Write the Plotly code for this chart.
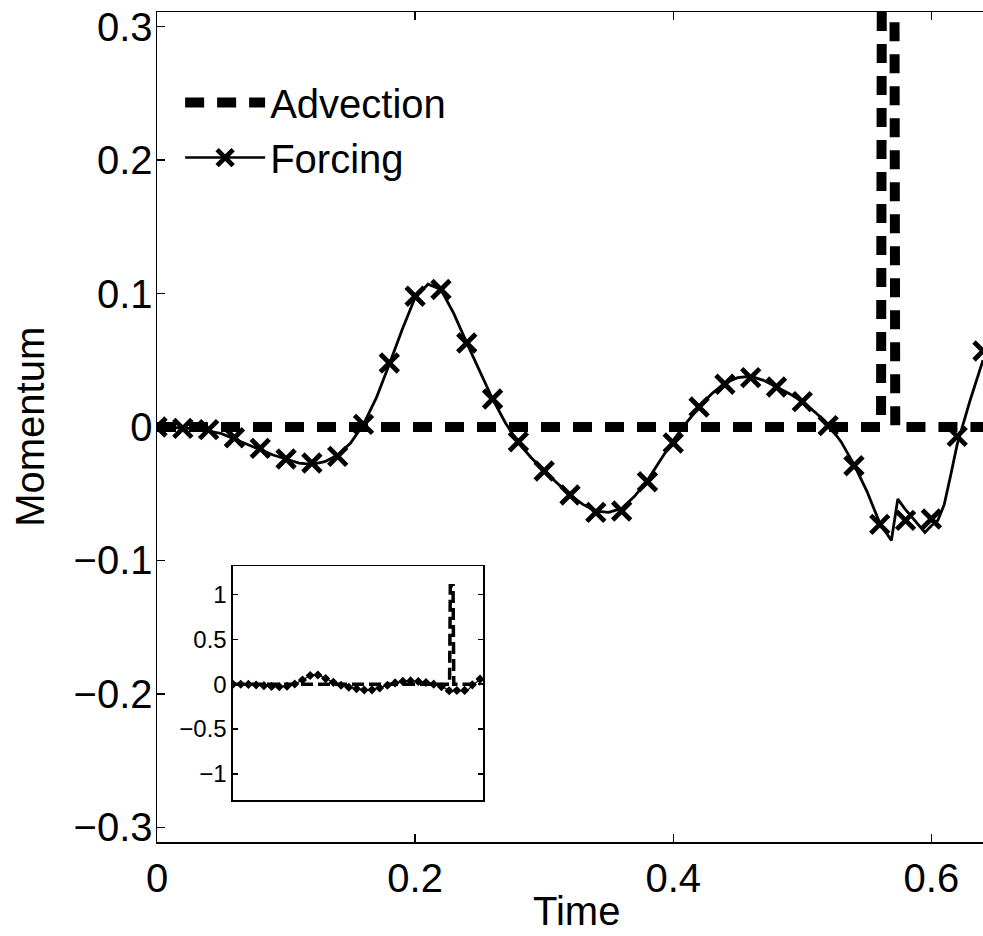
import plotly.graph_objects as go

# ---------------- data ----------------
advection_time = [0.0, 0.561, 0.563, 0.570, 0.572, 0.64]
advection_value = [0.0, 0.0, 1.1, 1.1, 0.0, 0.0]

forcing_marker_time = [0.00, 0.02, 0.04, 0.06, 0.08, 0.10, 0.12, 0.14, 0.16, 0.18,
                       0.20, 0.22, 0.24, 0.26, 0.28, 0.30, 0.32, 0.34, 0.36, 0.38,
                       0.40, 0.42, 0.44, 0.46, 0.48, 0.50, 0.52, 0.54, 0.56, 0.58,
                       0.60, 0.62, 0.64]
forcing_marker_value = [0.000, -0.001, -0.002, -0.008, -0.016, -0.024, -0.027, -0.022, 0.002, 0.048,
                        0.098, 0.103, 0.063, 0.021, -0.011, -0.033, -0.051, -0.064, -0.063, -0.041,
                        -0.012, 0.015, 0.032, 0.037, 0.030, 0.019, 0.001, -0.029, -0.073, -0.070,
                        -0.069, -0.007, 0.057]

forcing_line_time = [0.00, 0.01, 0.02, 0.03, 0.04, 0.05, 0.06, 0.07, 0.08, 0.09,
                     0.10, 0.11, 0.12, 0.13, 0.14, 0.15, 0.16, 0.17, 0.18, 0.19,
                     0.20, 0.21, 0.22, 0.23, 0.24, 0.25, 0.26, 0.27, 0.28, 0.29,
                     0.30, 0.31, 0.32, 0.33, 0.34, 0.35, 0.36, 0.37, 0.38, 0.39,
                     0.40, 0.41, 0.42, 0.43, 0.44, 0.45, 0.46, 0.47, 0.48, 0.49,
                     0.50, 0.51, 0.52, 0.53, 0.54, 0.55, 0.56, 0.565, 0.569, 0.574,
                     0.58, 0.595, 0.60, 0.605, 0.61, 0.615, 0.62, 0.63, 0.64]
forcing_line_value = [0.000, 0.000, -0.001, -0.001, -0.003, -0.005, -0.009, -0.013, -0.017, -0.021,
                      -0.024, -0.027, -0.028, -0.026, -0.021, -0.012, 0.002, 0.022, 0.047, 0.073,
                      0.097, 0.107, 0.103, 0.085, 0.063, 0.042, 0.021, 0.003, -0.012, -0.023,
                      -0.033, -0.042, -0.051, -0.058, -0.063, -0.064, -0.061, -0.052, -0.040, -0.025,
                      -0.010, 0.003, 0.015, 0.025, 0.033, 0.037, 0.038, 0.035, 0.030, 0.025,
                      0.019, 0.011, 0.002, -0.011, -0.028, -0.048, -0.072, -0.079, -0.085, -0.054,
                      -0.062, -0.079, -0.074, -0.070, -0.058, -0.036, -0.013, 0.020, 0.050]

main_y_ticks = [-0.3, -0.2, -0.1, 0, 0.1, 0.2, 0.3]
main_y_labels = ["\u22120.3", "\u22120.2", "\u22120.1", "0", "0.1", "0.2", "0.3"]
main_x_ticks = [0, 0.2, 0.4, 0.6]
main_x_labels = ["0", "0.2", "0.4", "0.6"]
inset_y_ticks = [-1, -0.5, 0, 0.5, 1]
inset_y_labels = ["\u22121", "\u22120.5", "0", "0.5", "1"]

FONT = "Liberation Sans, Arial, sans-serif"

fig = go.Figure()

# ---------------- main axes ----------------
fig.add_trace(go.Scatter(
    x=advection_time, y=advection_value, mode="lines", name="Advection",
    line=dict(color="black", width=10, dash="19px,13px"),
    xaxis="x", yaxis="y"))
fig.add_trace(go.Scatter(
    x=forcing_line_time, y=forcing_line_value, mode="lines", showlegend=False,
    line=dict(color="black", width=2.8), xaxis="x", yaxis="y"))
fig.add_trace(go.Scatter(
    x=forcing_marker_time, y=forcing_marker_value, mode="markers", showlegend=False,
    marker=dict(symbol="x-thin", size=18, color="black",
                line=dict(color="black", width=4.8)),
    xaxis="x", yaxis="y"))
# legend entry for Forcing (line + marker)
fig.add_trace(go.Scatter(
    x=[None], y=[None], mode="lines+markers", name="Forcing",
    line=dict(color="black", width=2.5),
    marker=dict(symbol="x-thin", size=16, color="black",
                line=dict(color="black", width=4.8)),
    xaxis="x", yaxis="y"))

# ---------------- inset axes ----------------
fig.add_trace(go.Scatter(
    x=advection_time, y=advection_value, mode="lines", showlegend=False,
    line=dict(color="black", width=3.5, dash="12px,5px"),
    xaxis="x2", yaxis="y2"))
fig.add_trace(go.Scatter(
    x=forcing_line_time, y=forcing_line_value, mode="lines", showlegend=False,
    line=dict(color="black", width=1.2), xaxis="x2", yaxis="y2"))
fig.add_trace(go.Scatter(
    x=forcing_marker_time, y=forcing_marker_value, mode="markers", showlegend=False,
    marker=dict(symbol="diamond", size=7, color="black"),
    xaxis="x2", yaxis="y2"))

axis_common = dict(showgrid=False, zeroline=False, showline=True,
                   linecolor="black", linewidth=1.5, ticks="inside",
                   tickcolor="black", tickwidth=1.5, automargin=False)

fig.update_layout(
    width=983, height=936,
    margin=dict(l=157, r=0, t=12, b=94),
    paper_bgcolor="white", plot_bgcolor="white",
    font=dict(family=FONT, size=40, color="black"),
    showlegend=True,
    legend=dict(x=0.028, y=0.93, xanchor="left", yanchor="top",
                bgcolor="rgba(0,0,0,0)", font=dict(size=40),
                itemwidth=80, tracegroupgap=0),
    xaxis=dict(domain=[0, 1], range=[0, 0.64], tickvals=main_x_ticks,
               ticktext=main_x_labels, ticklen=8, mirror="ticks",
               tickfont=dict(size=40), anchor="y", **axis_common),
    yaxis=dict(domain=[0, 1], range=[-0.311, 0.311], tickvals=main_y_ticks,
               ticktext=main_y_labels, ticklen=8, mirror=False,
               ticklabelstandoff=-5,
               tickfont=dict(size=40), anchor="x", **axis_common),
    xaxis2=dict(domain=[0.092, 0.3947], range=[0, 0.6477], anchor="y2",
                showticklabels=False, mirror=True, showgrid=False, zeroline=False,
                showline=True, linecolor="black", linewidth=1.5, ticks="",
                automargin=False),
    yaxis2=dict(domain=[0.0506, 0.3325], range=[-1.293, 1.32], anchor="x2",
                tickvals=inset_y_ticks, ticktext=inset_y_labels, ticklen=5,
                mirror="ticks", tickfont=dict(size=24), **axis_common),
    annotations=[
        dict(text="Time", xref="paper", yref="paper", x=0.508, y=-0.083,
             xanchor="center", yanchor="middle", showarrow=False,
             font=dict(size=40)),
        dict(text="Momentum", xref="paper", yref="paper", x=-0.154, y=0.5,
             xanchor="center", yanchor="middle", showarrow=False,
             textangle=-90, font=dict(size=40)),
    ],
)

fig.write_html(
    "out.html",
    config={"displayModeBar": False, "staticPlot": True},
    post_script="document.body.style.margin='0';document.body.style.overflow='hidden';")
